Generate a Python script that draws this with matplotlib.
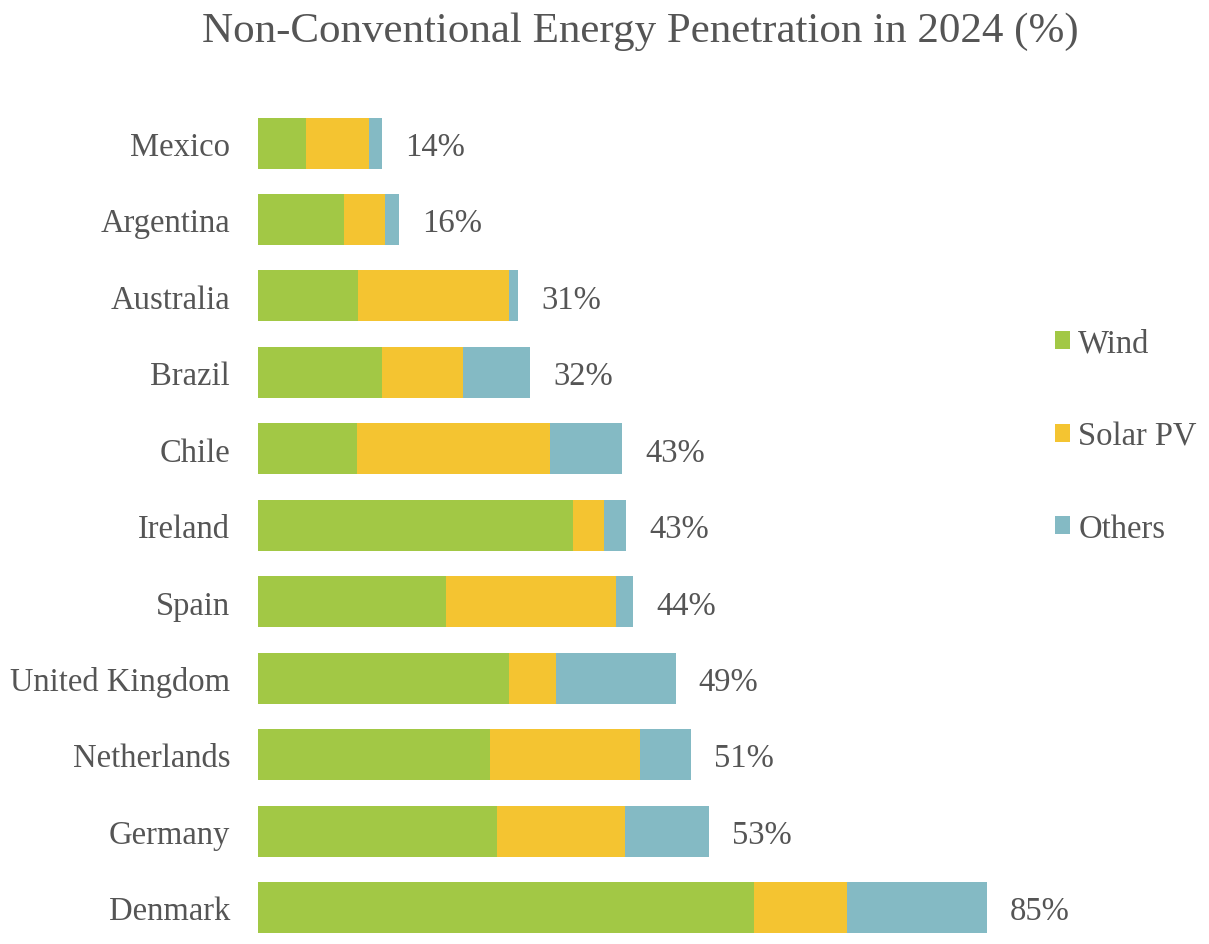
import matplotlib
matplotlib.use('Agg')
import matplotlib.pyplot as plt
import numpy as np

# data (percent of generation, 2024)
countries = ['Mexico', 'Argentina', 'Australia', 'Brazil', 'Chile', 'Ireland',
             'Spain', 'United Kingdom', 'Netherlands', 'Germany', 'Denmark']
wind = [5.6, 10.0, 11.7, 14.5, 11.6, 36.7, 21.9, 29.3, 27.0, 27.9, 57.8]
solar = [7.3, 4.8, 17.6, 9.4, 22.5, 3.6, 19.9, 5.4, 17.6, 14.9, 10.9]
others = [1.6, 1.6, 1.0, 7.8, 8.4, 2.6, 1.9, 14.0, 5.9, 9.8, 16.3]
total_labels = ['14%', '16%', '31%', '32%', '43%', '43%', '44%', '49%', '51%', '53%', '85%']
series_names = ['Wind', 'Solar PV', 'Others']

colors = ['#A2C845', '#F4C431', '#84BAC4']
txt_color = '#555555'

plt.rcParams['font.family'] = ['Liberation Serif', 'DejaVu Serif']

fig = plt.figure(figsize=(12.09, 9.45), dpi=100)
ax = fig.add_axes([258 / 1209, 0.0062, 857.6 / 1209, 0.8818])

y = np.arange(len(countries))
w = np.array(wind)
s = np.array(solar)
o = np.array(others)
h = 0.667

ax.barh(y, w, height=h, color=colors[0], label=series_names[0])
ax.barh(y, s, left=w, height=h, color=colors[1], label=series_names[1])
ax.barh(y, o, left=w + s, height=h, color=colors[2], label=series_names[2])

# total labels, a bit right of each bar
totals = w + s + o
for yi, t, lab in zip(y, totals, total_labels):
    ax.text(t + 2.7, yi, lab, va='center_baseline', ha='left', fontsize=23.5, color=txt_color)

ax.set_xlim(0, 100)
ax.set_ylim(10.4, -0.5)
ax.set_yticks(y)
ax.set_yticklabels(countries, fontsize=23.5, color=txt_color)
ax.tick_params(axis='y', length=0, pad=20)
ax.set_xticks([])
for sp in ax.spines.values():
    sp.set_visible(False)

fig.text(640 / 1209, 1 - 32 / 945, 'Non-Conventional Energy Penetration in 2024 (%)',
         ha='center', va='center', fontsize=31, color=txt_color)

leg = fig.legend(loc='center left', bbox_to_anchor=(1055 / 1209, 1 - 437 / 945),
                 frameon=False, fontsize=23.5, handlelength=0.46, handleheight=0.46,
                 handletextpad=0.25, labelspacing=1.9, borderpad=0, borderaxespad=0)
for t in leg.get_texts():
    t.set_color(txt_color)

fig.savefig('out.png', dpi=100)
